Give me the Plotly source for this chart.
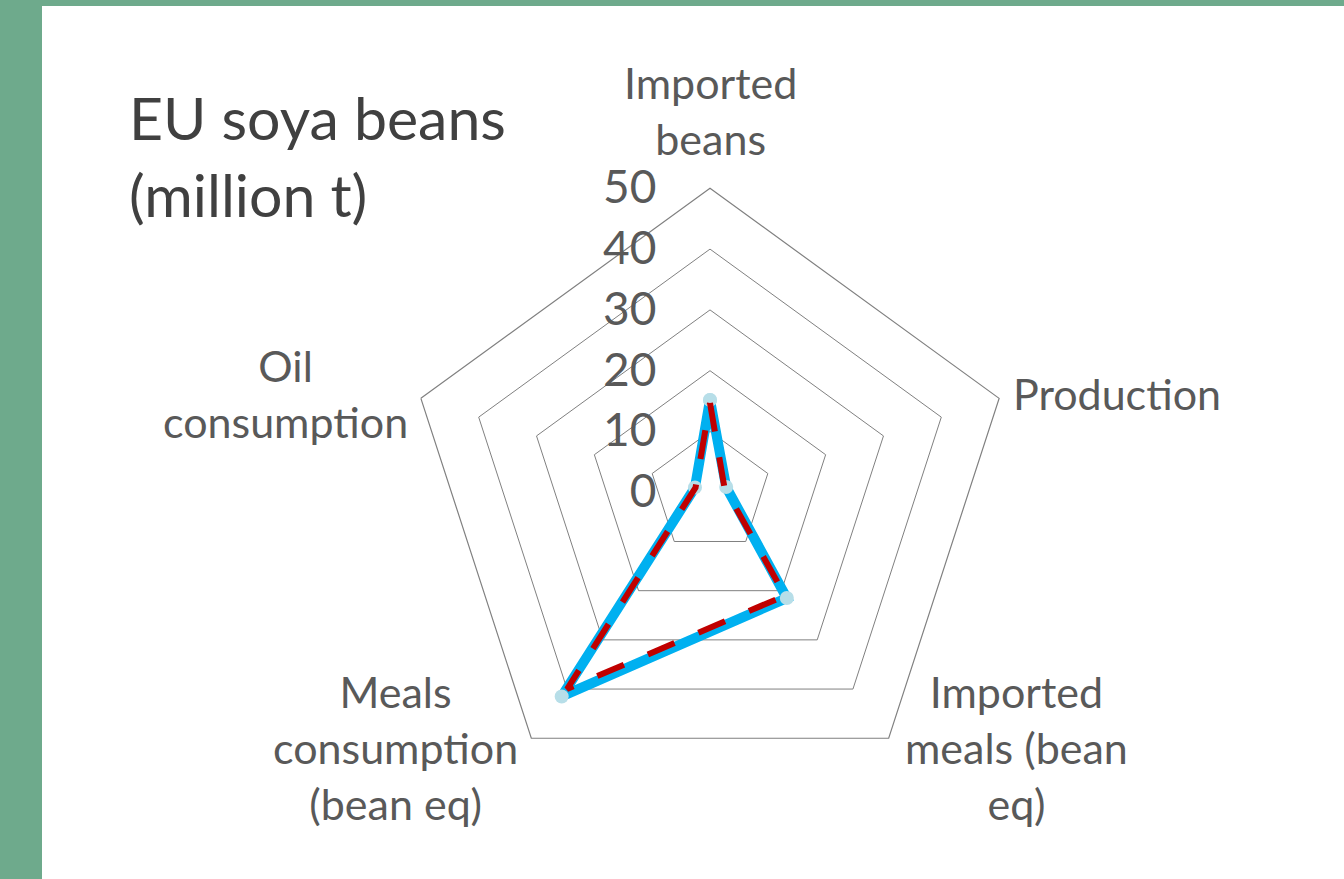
import math
import plotly.graph_objects as go

categories = ["Imported beans", "Production", "Imported meals (bean eq)",
              "Meals consumption (bean eq)", "Oil consumption"]
category_labels = ["Imported<br>beans", "Production", "Imported<br>meals (bean<br>eq)",
                   "Meals<br>consumption<br>(bean eq)", "Oil<br>consumption"]
series_blue = [15.2, 2.8, 21.5, 41.5, 2.6]
series_red = [14.7, 2.5, 21.0, 40.0, 2.5]
radial_ticks = [0, 10, 20, 30, 40, 50]

W, H = 1344, 879
cx, cy, R = 710, 492.3, 304

def closed(v):
    return list(v) + [v[0]]

fig = go.Figure()
fig.add_trace(go.Scatterpolar(
    r=closed(series_blue), theta=closed(categories), mode="lines+markers",
    line=dict(color="#00B0F0", width=10),
    marker=dict(color="#B7DEE8", size=14),
    showlegend=False, hoverinfo="skip"))
fig.add_trace(go.Scatterpolar(
    r=closed(series_red), theta=closed(categories), mode="lines",
    line=dict(color="#C00000", width=6, dash="29px,26px"),
    showlegend=False, hoverinfo="skip"))

font_family = "Lato, 'Open Sans', sans-serif"
label_font = dict(size=43, color="#595959", family=font_family)

# category labels placed just outside the outer pentagon vertices
annotations = []
n = len(categories)
for i, lab in enumerate(category_labels):
    ang = math.radians(90 - 360 * i / n)
    dx, dy = math.cos(ang), math.sin(ang)
    vx, vy = cx + R * dx, cy - R * dy
    if abs(dx) < 0.1:
        x, y, xa, ya = vx, vy - 22, "center", "bottom"
    else:
        xa = "left" if dx > 0 else "right"
        if dx > 0:
            x = vx + (12 if dy > 0 else 14)
        else:
            x = vx - 11
        y = vy - 5 if dy > 0 else vy + 9
        ya = "middle"
    annotations.append(dict(text=lab, xref="paper", yref="paper",
                            x=x / W, y=1 - y / H, xanchor=xa, yanchor=ya,
                            align="center", showarrow=False, font=label_font))

annotations.append(dict(text="EU soya beans<br>(million t)", xref="paper", yref="paper",
                        x=127 / W, y=1 - 80 / H, xanchor="left", yanchor="top", align="left",
                        showarrow=False, font=dict(size=59, color="#404040", family=font_family)))

fig.update_layout(
    width=W, height=H,
    margin=dict(l=0, r=0, t=0, b=0),
    paper_bgcolor="white",
    plot_bgcolor="white",
    polar=dict(
        domain=dict(x=[(cx - R) / W, (cx + R) / W],
                    y=[(H - cy - R) / H, (H - cy + R) / H]),
        bgcolor="white",
        gridshape="linear",
        radialaxis=dict(
            range=[0, 50], tickvals=radial_ticks, angle=90, tickangle=90,
            side="counterclockwise",
            showline=False, gridcolor="#808080", gridwidth=1.2,
            ticks="outside", ticklen=37, tickcolor="rgba(0,0,0,0)",
            tickfont=dict(size=46, color="#595959", family=font_family),
        ),
        angularaxis=dict(
            direction="clockwise", rotation=90,
            showgrid=False, showline=True, linecolor="#808080", linewidth=1.2,
            ticks="", showticklabels=False,
        ),
    ),
    shapes=[
        dict(type="rect", xref="paper", yref="paper", x0=0, x1=42 / W, y0=0, y1=1,
             fillcolor="#6EAA8C", line=dict(width=0), layer="above"),
        dict(type="rect", xref="paper", yref="paper", x0=0, x1=1, y0=1 - 6 / H, y1=1,
             fillcolor="#6EAA8C", line=dict(width=0), layer="above"),
    ],
    annotations=annotations,
)

fig.write_html("out.html", config={"displayModeBar": False},
               post_script="document.body.style.margin='0';document.body.style.overflow='hidden';")
